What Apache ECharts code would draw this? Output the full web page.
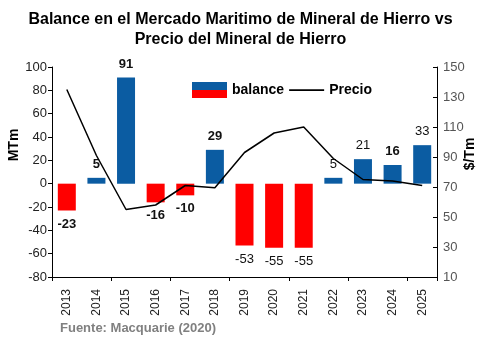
<!DOCTYPE html>
<html><head><meta charset="utf-8">
<script src="https://cdn.jsdelivr.net/npm/echarts@6/dist/echarts.min.js"></script>
<style>html,body{margin:0;padding:0;background:#fff}#c{width:481px;height:346px}</style>
</head><body><div id="c"></div>
<script>
const years = ['2013','2014','2015','2016','2017','2018','2019','2020','2021','2022','2023','2024','2025'];
const balance = [-23, 5, 91, -16, -10, 29, -53, -55, -55, 5, 21, 16, 33];
const precio = [135, 91, 55, 58, 71, 69.5, 93, 106, 110, 89, 75, 74, 71];
const leftTicks = [-80, 100, 20];
const rightTicks = [10, 150, 20];

const BLUE = '#0b5ca2', RED = '#ff0000';
const boldIdx = new Set([0, 1, 2, 3, 4, 5, 11]);
const chart = echarts.init(document.getElementById('c'), null, {renderer: 'canvas'});
const FONT = 'Arial, "Liberation Sans", sans-serif';
chart.setOption({
  animation: false,
  textStyle: {fontFamily: FONT},
  title: {
    text: 'Balance en el Mercado Maritimo de Mineral de Hierro vs\nPrecio del Mineral de Hierro',
    left: 'center', top: 5,
    textStyle: {fontFamily: FONT, fontSize: 16, fontWeight: 'bold', color: '#000', lineHeight: 20}
  },
  legend: {
    left: 192, top: 82, padding: 0, itemGap: 5, itemWidth: 35, itemHeight: 16,
    textStyle: {fontFamily: FONT, fontSize: 14, fontWeight: 'bold', color: '#000', padding: [0, 0, 0, 0]},
    data: [
      {name: 'balance', icon: 'rect', itemStyle: {color: {type: 'linear', x: 0, y: 0, x2: 0, y2: 1,
        colorStops: [{offset: 0, color: BLUE}, {offset: 0.5, color: BLUE}, {offset: 0.5, color: RED}, {offset: 1, color: RED}]}}},
      {name: 'Precio', icon: 'path://M0,0 L40,0 L40,2 L0,2 Z', itemStyle: {color: '#000'}}
    ]
  },
  grid: {left: 52, right: 44, top: 67, bottom: 69, containLabel: false, outerBoundsMode: 'none'},
  xAxis: [
    {type: 'category', data: years, position: 'bottom',
     axisLine: {show: false}, axisTick: {show: false},
     axisLabel: {rotate: 90, margin: 12, fontSize: 12, color: '#222', fontFamily: FONT}},
    {type: 'category', data: years, position: 'bottom',
     axisLine: {show: true, onZero: true, lineStyle: {color: '#000', width: 1}},
     axisTick: {show: true, inside: false, length: 4, lineStyle: {color: '#000'}},
     axisLabel: {show: false}}
  ],
  yAxis: [
    {type: 'value', min: leftTicks[0], max: leftTicks[1], interval: leftTicks[2],
     axisLine: {show: true, lineStyle: {color: '#000'}},
     axisTick: {show: true, length: 4, lineStyle: {color: '#000'}},
     axisLabel: {fontSize: 13, color: '#222', margin: 5},
     splitLine: {show: false}},
    {type: 'value', min: rightTicks[0], max: rightTicks[1], interval: rightTicks[2], position: 'right',
     axisLine: {show: true, lineStyle: {color: '#000'}},
     axisTick: {show: true, inside: true, length: 4, lineStyle: {color: '#000'}},
     axisLabel: {fontSize: 13, color: '#555', margin: 6},
     splitLine: {show: false}}
  ],
  series: [
    {name: 'balance', type: 'bar', xAxisIndex: 0, yAxisIndex: 0, barWidth: 18,
     data: balance.map((v, i) => ({value: v,
       itemStyle: {color: v >= 0 ? BLUE : RED},
       label: {show: true, position: v >= 0 ? 'top' : 'bottom', distance: 7,
         fontSize: 13, fontWeight: boldIdx.has(i) ? 'bold' : 'normal', color: '#111', fontFamily: FONT}}))},
    {name: 'Precio', type: 'line', xAxisIndex: 0, yAxisIndex: 1, data: precio,
     symbol: 'none', lineStyle: {color: '#000', width: 1.5}, itemStyle: {color: '#000'}, z: 5}
  ],
  graphic: [
    {type: 'text', x: 14, y: 145, rotation: Math.PI / 2,
     style: {text: 'MTm', font: 'bold 14px ' + FONT, fill: '#000', align: 'center', verticalAlign: 'middle'}},
    {type: 'text', x: 470, y: 154, rotation: Math.PI / 2,
     style: {text: '$/Tm', font: 'bold 14px ' + FONT, fill: '#000', align: 'center', verticalAlign: 'middle'}},
    {type: 'text', left: 60, top: 322, style: {text: 'Fuente: Macquarie (2020)', font: 'bold 13px ' + FONT, fill: '#808080'}}
  ]
});
</script></body></html>
